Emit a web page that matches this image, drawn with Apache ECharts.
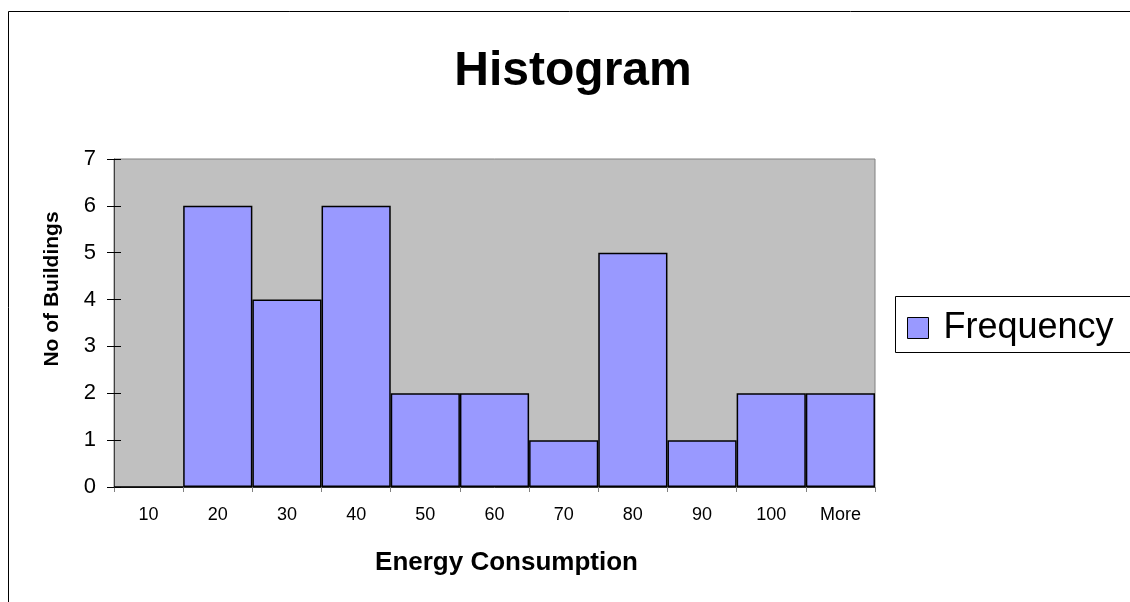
<!DOCTYPE html>
<html>
<head>
<meta charset="utf-8">
<script src="https://cdn.jsdelivr.net/npm/echarts@6/dist/echarts.min.js"></script>
<style>
html,body{margin:0;padding:0;background:#fff;}
#chart{width:1130px;height:602px;}
</style>
</head>
<body>
<div id="chart"></div>
<script>
const categories = ['10','20','30','40','50','60','70','80','90','100','More'];
const frequency = [0,6,4,6,2,2,1,5,1,2,2];
const yTicks = {min:0, max:7, interval:1};

const chart = echarts.init(document.getElementById('chart'), null, {renderer:'canvas'});
const font = 'Arial, "Liberation Sans", sans-serif';
chart.setOption({
  animation:false,
  backgroundColor:'#ffffff',
  title:{
    text:'Histogram',
    left:568, top:43, textAlign:'center',
    textStyle:{fontFamily:font, fontSize:48, fontWeight:'bold', color:'#000'}
  },
  graphic:[
    {type:'rect', shape:{x:8.5,y:11.5,width:1200,height:700}, style:{fill:null, stroke:'#000', lineWidth:1}, z:-10},
    {type:'rect', shape:{x:895.5,y:296.5,width:240,height:56}, style:{fill:'#fff', stroke:'#000', lineWidth:1}, z:0}
  ],
  legend:{
    left:907, top:310, padding:0,
    itemWidth:21, itemHeight:21,
    icon:'rect',
    itemStyle:{borderColor:'#000', borderWidth:1},
    textStyle:{fontFamily:font, fontSize:36, color:'#000', lineHeight:21, padding:[0,0,0,10]},
    z:5
  },
  grid:{
    left:114, right:255, top:159, bottom:115,
    show:true, backgroundColor:'#C0C0C0', borderColor:'#808080', borderWidth:1
  },
  xAxis:{
    type:'category',
    data:categories,
    name:'Energy Consumption',
    nameLocation:'middle',
    nameGap:63,
    nameTextStyle:{fontFamily:font, fontSize:26, fontWeight:'bold', color:'#000', padding:[0,0,0,24]},
    axisLine:{lineStyle:{color:'#333', width:1}},
    axisTick:{show:true, length:5, lineStyle:{color:'#808080'}},
    axisLabel:{fontFamily:font, fontSize:18, color:'#000', margin:19},
    splitLine:{show:false}
  },
  yAxis:[{
    type:'value',
    min:yTicks.min, max:yTicks.max, interval:yTicks.interval,
    name:'No of Buildings',
    nameLocation:'middle',
    nameGap:51,
    nameRotate:90,
    nameTextStyle:{fontFamily:font, fontSize:21, fontWeight:'bold', color:'#000', padding:[0,0,0,68]},
    axisLine:{show:true, lineStyle:{color:'#404040'}},
    axisTick:{show:true, length:7, lineStyle:{color:'#000'}},
    axisLabel:{fontFamily:font, fontSize:22, color:'#000', margin:18},
    splitLine:{show:false}
  },{
    type:'value',
    min:yTicks.min, max:yTicks.max, interval:yTicks.interval,
    position:'left',
    axisLine:{show:false},
    axisTick:{show:true, inside:true, length:7, lineStyle:{color:'#000'}},
    axisLabel:{show:false},
    splitLine:{show:false}
  }],
  series:[{
    name:'Frequency',
    type:'bar',
    data:frequency,
    barCategoryGap:'0%',
    itemStyle:{color:'#9999FF', borderColor:'#000', borderWidth:1.5},
    z:3
  }]
});
</script>
</body>
</html>
